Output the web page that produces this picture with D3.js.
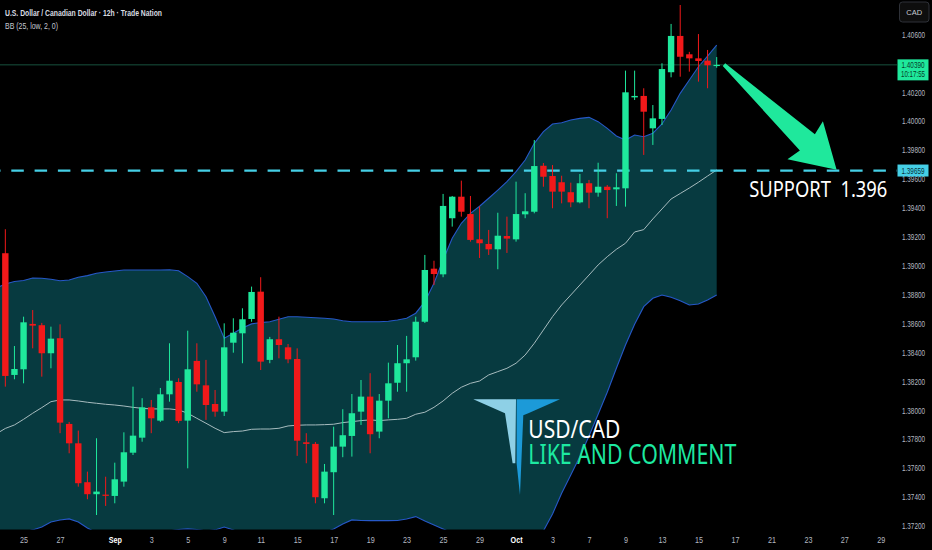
<!DOCTYPE html>
<html>
<head>
<meta charset="utf-8">
<style>
  html, body { margin: 0; padding: 0; background: #000; }
  svg { display: block; }
</style>
<script src="https://cdn.jsdelivr.net/npm/d3@7"></script>
</head>
<body>
<svg id="chart" width="932" height="550"></svg>
<script>
// 12h candles, first one = Fri 22 Aug 2025 00:00
const firstCandleDate = "2025-08-22";

const candleOpen = [
  1.39087, 1.38245, 1.38284, 1.38598, 1.38589, 1.38395, 1.38499, 1.37906, 1.37772, 1.37503,
  1.37420, 1.37417, 1.37408, 1.37507, 1.37707, 1.37811, 1.38021, 1.37929, 1.38111, 1.38196,
  1.37929, 1.38342, 1.38173, 1.38044, 1.37991, 1.38468, 1.38533, 1.38632, 1.38821, 1.38349,
  1.38492, 1.38436, 1.38355, 1.37779, 1.37768, 1.37392, 1.37572, 1.37749, 1.37823, 1.37991,
  1.38095, 1.37853, 1.38067, 1.38191, 1.38326, 1.38367, 1.38613, 1.38980, 1.38941, 1.39329,
  1.39478, 1.39358, 1.39183, 1.39151, 1.39114, 1.39206, 1.39183, 1.39356, 1.39374, 1.39692,
  1.39621, 1.39578, 1.39509, 1.39439, 1.39571, 1.39506, 1.39547, 1.39529, 1.39536, 1.40165,
  1.40175, 1.39951, 1.40016, 1.40339, 1.40590, 1.40463, 1.40435, 1.40419, 1.40384
];
const candleHigh = [
  1.39253, 1.38445, 1.38648, 1.38694, 1.38605, 1.38579, 1.38595, 1.37920, 1.37860, 1.37576,
  1.37807, 1.37541, 1.37638, 1.37848, 1.38164, 1.38084, 1.38072, 1.38155, 1.38464, 1.38222,
  1.38551, 1.38464, 1.38349, 1.38141, 1.38602, 1.38637, 1.38706, 1.38856, 1.38921, 1.38508,
  1.38648, 1.38459, 1.38429, 1.37842, 1.37781, 1.37629, 1.37887, 1.38008, 1.38113, 1.38210,
  1.38257, 1.38113, 1.38330, 1.38452, 1.38515, 1.38648, 1.39075, 1.39035, 1.39497, 1.39483,
  1.39589, 1.39483, 1.39409, 1.39248, 1.39367, 1.39340, 1.39582, 1.39502, 1.39870, 1.39711,
  1.39697, 1.39623, 1.39575, 1.39635, 1.39594, 1.39713, 1.39559, 1.39640, 1.40350, 1.40350,
  1.40228, 1.40112, 1.40401, 1.40673, 1.40804, 1.40480, 1.40603, 1.40493, 1.40444
];
const candleLow = [
  1.38164, 1.38215, 1.38187, 1.38429, 1.38233, 1.38291, 1.37842, 1.37703, 1.37472, 1.37385,
  1.37276, 1.37339, 1.37357, 1.37472, 1.37691, 1.37783, 1.37842, 1.37920, 1.38060, 1.37911,
  1.37599, 1.38129, 1.37934, 1.37956, 1.37961, 1.38399, 1.38326, 1.38613, 1.38279, 1.38326,
  1.38360, 1.38326, 1.37685, 1.37634, 1.37357, 1.37357, 1.37276, 1.37676, 1.37680, 1.37899,
  1.37703, 1.37807, 1.37945, 1.38129, 1.38129, 1.38344, 1.38604, 1.38867, 1.38921, 1.39271,
  1.39340, 1.39167, 1.39054, 1.39075, 1.38976, 1.39089, 1.39167, 1.39329, 1.39363, 1.39547,
  1.39398, 1.39432, 1.39405, 1.39432, 1.39398, 1.39478, 1.39329, 1.39414, 1.39409, 1.40147,
  1.39767, 1.39836, 1.39974, 1.40304, 1.40308, 1.40343, 1.40274, 1.40228, 1.40370
];
const candleClose = [
  1.38238, 1.38286, 1.38609, 1.38586, 1.38395, 1.38496, 1.37915, 1.37772, 1.37496, 1.37420,
  1.37438, 1.37413, 1.37523, 1.37710, 1.37825, 1.38021, 1.37945, 1.38111, 1.38205, 1.37927,
  1.38284, 1.38180, 1.38037, 1.37991, 1.38436, 1.38537, 1.38630, 1.38819, 1.38337, 1.38492,
  1.38452, 1.38353, 1.37790, 1.37768, 1.37399, 1.37576, 1.37749, 1.37828, 1.37980, 1.38095,
  1.37835, 1.38067, 1.38187, 1.38326, 1.38353, 1.38613, 1.38971, 1.38943, 1.39414, 1.39478,
  1.39374, 1.39179, 1.39156, 1.39114, 1.39208, 1.39188, 1.39358, 1.39377, 1.39690, 1.39616,
  1.39513, 1.39513, 1.39439, 1.39571, 1.39506, 1.39547, 1.39524, 1.39543, 1.40200, 1.40175,
  1.40066, 1.40020, 1.40361, 1.40590, 1.40446, 1.40435, 1.40417, 1.40387, 1.40390
];

// Bollinger bands (25, low, 2), starting one candle before the first candle
const bandStart = -1;
const bbUpper = [
  1.38847, 1.38874, 1.38891, 1.38898, 1.38916, 1.38914, 1.38907, 1.38897, 1.38902, 1.38921,
  1.38932, 1.38948, 1.38957, 1.38964, 1.38971, 1.38971, 1.38971, 1.38971, 1.38971, 1.38973,
  1.38966, 1.38925, 1.38879, 1.38786, 1.38648, 1.38499, 1.38533, 1.38570, 1.38598, 1.38607,
  1.38613, 1.38630, 1.38648, 1.38648, 1.38644, 1.38641, 1.38637, 1.38632, 1.38620, 1.38613,
  1.38613, 1.38613, 1.38613, 1.38616, 1.38625, 1.38637, 1.38672, 1.38752, 1.38879, 1.39040,
  1.39190, 1.39294, 1.39363, 1.39412, 1.39467, 1.39524, 1.39582, 1.39651, 1.39732, 1.39847,
  1.39928, 1.39981, 1.39990, 1.40009, 1.40020, 1.40027, 1.39997, 1.39951, 1.39898, 1.39870,
  1.39905, 1.39893, 1.39917, 1.39981, 1.40078, 1.40193, 1.40285, 1.40377, 1.40451, 1.40527
];
const bbBasis = [
  1.37837, 1.37875, 1.37899, 1.37938, 1.37980, 1.38019, 1.38060, 1.38072, 1.38072, 1.38065,
  1.38056, 1.38049, 1.38042, 1.38037, 1.38030, 1.38021, 1.38014, 1.38010, 1.38010, 1.38010,
  1.38003, 1.37980, 1.37945, 1.37911, 1.37876, 1.37846, 1.37853, 1.37857, 1.37869, 1.37871,
  1.37871, 1.37876, 1.37892, 1.37897, 1.37899, 1.37899, 1.37901, 1.37904, 1.37915, 1.37922,
  1.37929, 1.37934, 1.37929, 1.37934, 1.37938, 1.37945, 1.37973, 1.37987, 1.38021, 1.38065,
  1.38118, 1.38160, 1.38187, 1.38203, 1.38245, 1.38268, 1.38291, 1.38326, 1.38383, 1.38464,
  1.38556, 1.38648, 1.38729, 1.38798, 1.38867, 1.38936, 1.39006, 1.39063, 1.39114, 1.39156,
  1.39234, 1.39250, 1.39324, 1.39393, 1.39462, 1.39500, 1.39538, 1.39578, 1.39621, 1.39663
];
const bbLower = [
  1.37103, 1.37124, 1.37145, 1.37159, 1.37173, 1.37193, 1.37228, 1.37242, 1.37249, 1.37228,
  1.37186, 1.37152, 1.37131, 1.37117, 1.37110, 1.37117, 1.37124, 1.37138, 1.37152, 1.37166,
  1.37176, 1.37180, 1.37176, 1.37166, 1.37173, 1.37193, 1.37173, 1.37145, 1.37124, 1.37110,
  1.37103, 1.37097, 1.37097, 1.37103, 1.37110, 1.37124, 1.37152, 1.37180, 1.37214, 1.37242,
  1.37238, 1.37237, 1.37237, 1.37237, 1.37238, 1.37249, 1.37265, 1.37235, 1.37207, 1.37180,
  1.37152, 1.37124, 1.37103, 1.37090, 1.37083, 1.37083, 1.37090, 1.37103, 1.37124, 1.37145,
  1.37166, 1.37283, 1.37427, 1.37553, 1.37680, 1.37823, 1.37973, 1.38125, 1.38291, 1.38452,
  1.38595, 1.38717, 1.38775, 1.38798, 1.38782, 1.38759, 1.38729, 1.38736, 1.38764, 1.38798
];

const priceTicks = [
  1.406, 1.404, 1.402, 1.400, 1.398, 1.396, 1.394, 1.392, 1.390,
  1.388, 1.386, 1.384, 1.382, 1.380, 1.378, 1.376, 1.374, 1.372
];
const dateTicks = [
  "2025-08-25", "2025-08-27", "2025-09-01", "2025-09-03", "2025-09-05", "2025-09-09",
  "2025-09-11", "2025-09-15", "2025-09-17", "2025-09-19", "2025-09-23", "2025-09-25",
  "2025-09-29", "2025-10-01", "2025-10-03", "2025-10-07", "2025-10-09", "2025-10-13",
  "2025-10-15", "2025-10-17", "2025-10-21", "2025-10-23", "2025-10-27", "2025-10-29"
];
const monthNames = ["Jan","Feb","Mar","Apr","May","Jun","Jul","Aug","Sep","Oct","Nov","Dec"];

const lastPrice = 1.40390;
const lastTimer = "10:17:55";
const supportLevel = 1.39659;
// arrow: [candle index, price]
const arrowFrom = [78.8, 1.40392];
const arrowTo = [91.15, 1.39665];

const title = "U.S. Dollar / Canadian Dollar · 12h · Trade Nation";
const indicatorLabel = "BB (25, low, 2, 0)";

// ---------------------------------------------------------------
const W = 932, H = 550;
const plotRight = 897, plotBottom = 529.5;
const GREEN = "#1fe89c", RED = "#f2191a", CYAN = "#45cfe6";
const FONT = "'Liberation Sans', 'Noto Sans', Arial, sans-serif";

// candle index of a date (2 candles per weekday)
function candleIndex(dateStr) {
  const start = new Date(firstCandleDate + "T00:00:00Z");
  const end = new Date(dateStr + "T00:00:00Z");
  let n = 0;
  for (let d = new Date(start); d < end; d.setUTCDate(d.getUTCDate() + 1)) {
    const wd = d.getUTCDay();
    if (wd !== 0 && wd !== 6) n++;
  }
  return n * 2;
}

const svg = d3.select("#chart");
svg.append("rect").attr("width", W).attr("height", H).attr("fill", "#000");

const x = d3.scaleLinear().domain([0, 96]).range([5.33, 880.85]);
const y = d3.scaleLinear().domain([1.372, 1.406]).range([526, 34.5]);

svg.append("defs").append("clipPath").attr("id", "plot-clip")
  .append("rect").attr("x", 0).attr("y", 0).attr("width", plotRight).attr("height", plotBottom);

const plot = svg.append("g").attr("clip-path", "url(#plot-clip)");

// bands
const bandIdx = d3.range(bbUpper.length);
plot.append("path")
  .datum(bandIdx)
  .attr("fill", "#073a40")
  .attr("d", d3.area()
    .x(i => x(i + bandStart))
    .y0(i => y(bbLower[i]))
    .y1(i => y(bbUpper[i])));

const bandLine = arr => d3.line().x(i => x(i + bandStart)).y(i => y(arr[i]));
plot.append("path").datum(bandIdx).attr("fill", "none")
  .attr("stroke", "#2658c8").attr("stroke-width", 1.1).attr("d", bandLine(bbUpper));
plot.append("path").datum(bandIdx).attr("fill", "none")
  .attr("stroke", "#2658c8").attr("stroke-width", 1.1).attr("d", bandLine(bbLower));
plot.append("path").datum(bandIdx).attr("fill", "none")
  .attr("stroke", "#a7bcbf").attr("stroke-width", 1).attr("d", bandLine(bbBasis));

// last price line
plot.append("line")
  .attr("x1", 0).attr("x2", plotRight)
  .attr("y1", y(lastPrice)).attr("y2", y(lastPrice))
  .attr("stroke", "#17523e").attr("stroke-width", 1);

// support line
plot.append("line")
  .attr("x1", 0).attr("x2", plotRight)
  .attr("y1", y(supportLevel)).attr("y2", y(supportLevel))
  .attr("stroke", CYAN).attr("stroke-width", 2.3)
  .attr("stroke-dasharray", "12.5,10.8").attr("stroke-dashoffset", 12);

// candles
const idx = d3.range(candleOpen.length);
const col = i => candleClose[i] >= candleOpen[i] ? GREEN : RED;

plot.append("g").selectAll("line")
  .data(idx)
  .join("line")
  .attr("x1", i => x(i)).attr("x2", i => x(i))
  .attr("y1", i => y(candleHigh[i])).attr("y2", i => y(candleLow[i]))
  .attr("stroke", col).attr("stroke-width", 1);

const bodyW = 6.4;
plot.append("g").selectAll("rect")
  .data(idx)
  .join("rect")
  .attr("x", i => x(i) - bodyW / 2)
  .attr("width", bodyW)
  .attr("y", i => y(Math.max(candleOpen[i], candleClose[i])))
  .attr("height", i => Math.max(1.2, Math.abs(y(candleOpen[i]) - y(candleClose[i]))))
  .attr("fill", col);

// logo + texts
const logo = svg.append("g").attr("transform", "translate(473.3,399.3)");
logo.append("polygon").attr("fill", "#8ed0e6")
  .attr("points", [[0,0],[42.7,0],[42,64],[39.3,64],[31.7,14]].join(" "));
logo.append("polygon").attr("fill", "#1c9ad8")
  .attr("points", [[43.3,0],[86.7,0],[55,14],[50,16],[46.7,95.7],[43.3,64]].join(" "));

svg.append("text")
  .attr("x", 528.3).attr("y", 438.3)
  .attr("font-family", "'Noto Sans', 'Open Sans', sans-serif").attr("font-size", 26)
  .attr("fill", "#ffffff")
  .attr("textLength", 92).attr("lengthAdjust", "spacingAndGlyphs")
  .text("USD/CAD");
svg.append("text")
  .attr("x", 528.3).attr("y", 464.3)
  .attr("font-family", "'Noto Sans', 'Open Sans', sans-serif").attr("font-size", 27)
  .attr("fill", "#1de9a1")
  .attr("textLength", 208).attr("lengthAdjust", "spacingAndGlyphs")
  .text("LIKE AND COMMENT");

svg.append("text")
  .attr("x", 749.3).attr("y", y(supportLevel) + 26.5)
  .attr("font-family", "'Noto Sans', 'Open Sans', sans-serif").attr("font-size", 22)
  .attr("fill", "#ffffff")
  .style("white-space", "pre")
  .attr("textLength", 138).attr("lengthAdjust", "spacingAndGlyphs")
  .text("SUPPORT  1.396");

// arrow
const p0 = [x(arrowFrom[0]), y(arrowFrom[1])];
const p1 = [x(arrowTo[0]), y(arrowTo[1])];
const adx = p1[0] - p0[0], ady = p1[1] - p0[1];
const L = Math.hypot(adx, ady);
const ux = adx / L, uy = ady / L, nx = -uy, ny = ux;
const pt = (a, c) => [p0[0] + ux * a + nx * c, p0[1] + uy * a + ny * c];
svg.append("polygon")
  .attr("fill", GREEN)
  .attr("points", [pt(0, -1.8), pt(L - 40, -11), pt(L - 43, -26), pt(L, 0),
                   pt(L - 43, 26), pt(L - 40, 11), pt(0, 1.8)].join(" "));

// price axis
const yAxis = d3.axisRight(y)
  .tickValues(priceTicks)
  .tickFormat(d3.format(".5f"))
  .tickSize(0).tickPadding(0);
const gy = svg.append("g").attr("transform", "translate(902,0)").call(yAxis);
gy.select(".domain").remove();
gy.selectAll("text")
  .attr("fill", "#b4b8c0")
  .attr("font-family", FONT).attr("font-size", 8.5)
  .attr("textLength", 23).attr("lengthAdjust", "spacingAndGlyphs");

// time axis
const gx = svg.append("g").attr("transform", `translate(0,${plotBottom})`)
  .call(d3.axisBottom(x)
    .tickValues(dateTicks.map(candleIndex))
    .tickFormat((d, i) => {
      const dt = new Date(dateTicks[i] + "T00:00:00Z");
      return dt.getUTCDate() === 1 ? monthNames[dt.getUTCMonth()] : String(dt.getUTCDate());
    })
    .tickSize(0).tickPadding(7));
gx.select(".domain").remove();
gx.selectAll("text")
  .attr("font-family", FONT).attr("font-size", 9)
  .attr("fill", (d, i) => dateTicks[i].endsWith("-01") ? "#ffffff" : "#b4b8c0")
  .attr("font-weight", (d, i) => dateTicks[i].endsWith("-01") ? "bold" : "normal")
  .each(function () {
    const w = this.getComputedTextLength();
    d3.select(this).attr("textLength", w * 0.8).attr("lengthAdjust", "spacingAndGlyphs");
  });

// price labels on the scale
const lastY = y(lastPrice);
svg.append("rect").attr("x", 897.5).attr("y", lastY - 5.5).attr("width", 31).attr("height", 21)
  .attr("fill", GREEN);
svg.append("text").attr("x", 913).attr("y", lastY + 2.8)
  .attr("text-anchor", "middle").attr("font-family", FONT).attr("font-size", 8.5)
  .attr("fill", "#073d2a").attr("textLength", 23).attr("lengthAdjust", "spacingAndGlyphs")
  .text(d3.format(".5f")(lastPrice));
svg.append("text").attr("x", 913).attr("y", lastY + 12.5)
  .attr("text-anchor", "middle").attr("font-family", FONT).attr("font-size", 8.5)
  .attr("fill", "#073d2a").attr("textLength", 24).attr("lengthAdjust", "spacingAndGlyphs")
  .text(lastTimer);

const supY = y(supportLevel);
svg.append("rect").attr("x", 897.5).attr("y", supY - 6).attr("width", 31).attr("height", 12)
  .attr("fill", CYAN);
svg.append("text").attr("x", 913).attr("y", supY + 3)
  .attr("text-anchor", "middle").attr("font-family", FONT).attr("font-size", 8.5)
  .attr("fill", "#07323a").attr("textLength", 23).attr("lengthAdjust", "spacingAndGlyphs")
  .text(d3.format(".5f")(supportLevel));

// currency box
svg.append("rect").attr("x", 899.5).attr("y", 2).attr("width", 29.5).attr("height", 20)
  .attr("rx", 3).attr("fill", "#0e0e0e").attr("stroke", "#2e3138");
svg.append("text").attr("x", 914.2).attr("y", 15)
  .attr("text-anchor", "middle").attr("font-family", FONT).attr("font-size", 7.5)
  .attr("fill", "#c8ccd4").text("CAD");

// header
svg.append("text").attr("x", 5).attr("y", 15.5)
  .attr("font-family", FONT).attr("font-size", 9.5).attr("font-weight", "bold")
  .attr("fill", "#d9dce2")
  .attr("textLength", 157).attr("lengthAdjust", "spacingAndGlyphs")
  .text(title);
svg.append("text").attr("x", 5).attr("y", 28.5)
  .attr("font-family", FONT).attr("font-size", 9)
  .attr("fill", "#c4c8d0")
  .attr("textLength", 53).attr("lengthAdjust", "spacingAndGlyphs")
  .text(indicatorLabel);
</script>
</body>
</html>
